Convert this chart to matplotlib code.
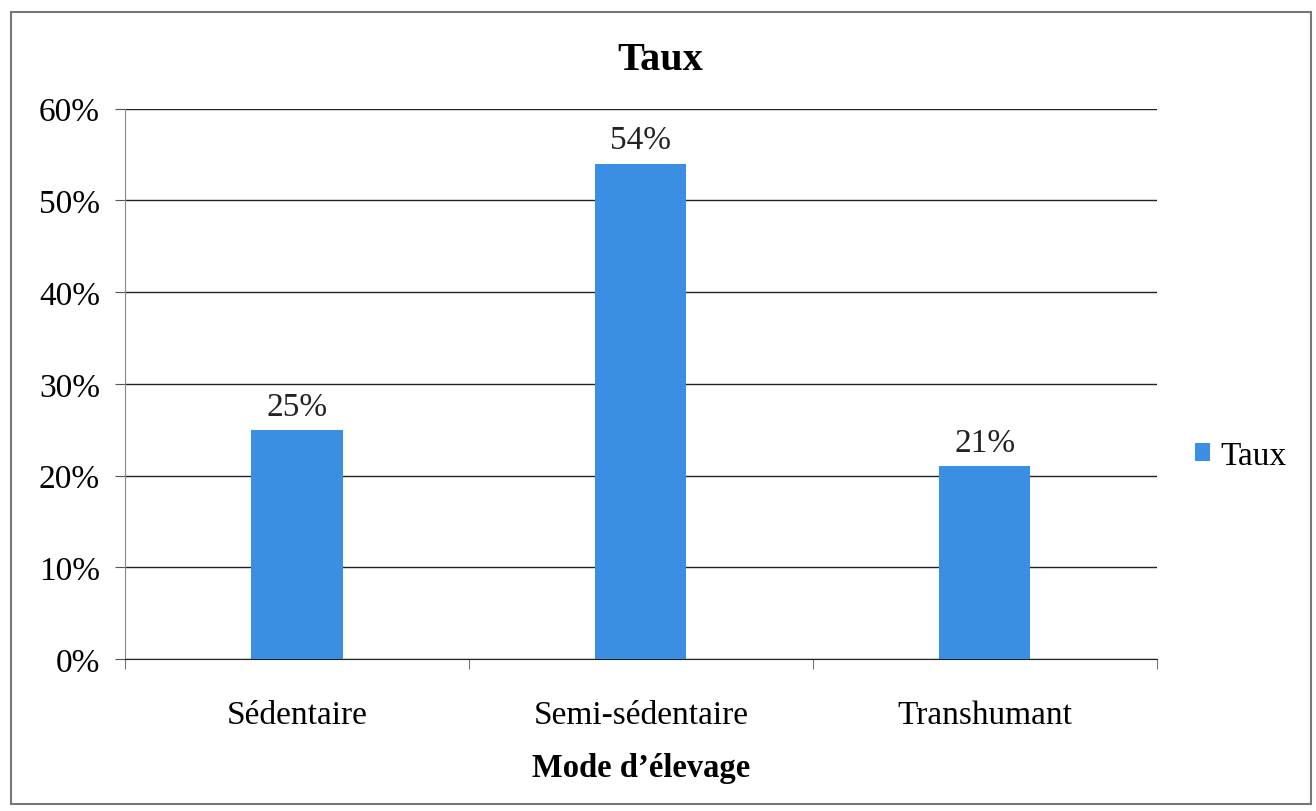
import matplotlib.pyplot as plt
from matplotlib.patches import Rectangle
from matplotlib.ticker import PercentFormatter

plt.rcParams['font.family'] = ['Liberation Serif', 'DejaVu Serif']

# Data
categories = ['Sédentaire', 'Semi-sédentaire', 'Transhumant']
taux = [25, 54, 21]
yticks = [0, 10, 20, 30, 40, 50, 60]

bar_color = '#3a8ee4'

fig = plt.figure(figsize=(13.16, 8.12), dpi=100)
ax = fig.add_axes([0.095, 0.187, 0.784, 0.678])

x = range(len(categories))
bars = ax.bar(x, taux, width=0.265, color=bar_color, label='Taux', zorder=3)

for xi, v in zip(x, taux):
    ax.text(xi, v + 0.9, f'{v}%', ha='center', va='bottom', fontsize=24, color='#222222')

ax.set_xlim(-0.5, 2.5)
ax.set_ylim(0, 60)
ax.set_yticks(yticks)
ax.yaxis.set_major_formatter(PercentFormatter(decimals=0))
ax.grid(axis='y', color='#222222', linewidth=1.0, zorder=0)

# category boundary ticks on the x axis
ax.set_xticks([-0.5, 0.5, 1.5, 2.5], minor=False)
ax.set_xticklabels([])
ax.set_xticks(list(x), minor=True)
ax.set_xticklabels(categories, minor=True)
ax.tick_params(axis='x', which='major', length=7, direction='out', color='#777777')
ax.tick_params(axis='x', which='minor', length=0, pad=29, labelsize=24)
ax.tick_params(axis='y', length=7, direction='out', color='#555555', labelsize=24, pad=11)

for side in ['top', 'right']:
    ax.spines[side].set_visible(False)
ax.spines['left'].set_color('#888888')
ax.spines['left'].set_linewidth(0.8)
ax.spines['bottom'].set_color('#222222')

ax.set_xlabel('Mode d’élevage', fontsize=23.5, fontweight='bold', labelpad=16)
fig.text(0.5015, 0.925, 'Taux', ha='center', va='center', fontsize=29, fontweight='bold')

leg = ax.legend(loc='center left', bbox_to_anchor=(1.008, 0.37), frameon=False,
                fontsize=24, handlelength=0.45, handleheight=0.45, handletextpad=0.3)

# outer chart border
fig.patches.append(Rectangle((0.008, 0.009), 0.988, 0.975, transform=fig.transFigure,
                             fill=False, edgecolor='#777777', linewidth=1.5))

fig.savefig('out.png', dpi=100)
